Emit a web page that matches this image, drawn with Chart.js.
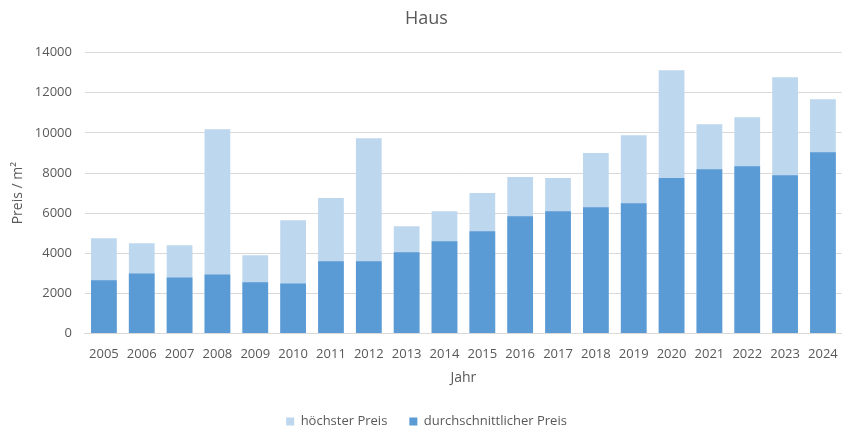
<!DOCTYPE html>
<html>
<head>
<meta charset="utf-8">
<script src="https://cdn.jsdelivr.net/npm/chart.js@4"></script>
<style>
  html, body { margin: 0; padding: 0; background: #ffffff; }
  #wrap { width: 851px; height: 434px; }
</style>
</head>
<body>
<div id="wrap"><canvas id="c" width="851" height="434"></canvas></div>
<script>
const years = ["2005","2006","2007","2008","2009","2010","2011","2012","2013","2014","2015","2016","2017","2018","2019","2020","2021","2022","2023","2024"];
const hoechsterPreis = [4750,4500,4400,10180,3900,5650,6750,9730,5350,6100,7000,7800,7750,9000,9880,13120,10430,10780,12770,11680];
const durchschnittPreis = [2660,3000,2800,2950,2560,2500,3600,3600,4050,4600,5100,5850,6100,6300,6500,7750,8190,8340,7890,9040];
const yTicks = [0,2000,4000,6000,8000,10000,12000,14000];

const grey = '#595959';
const fontFam = '"Open Sans", "DejaVu Sans", sans-serif';

new Chart(document.getElementById('c'), {
  type: 'bar',
  data: {
    labels: years,
    datasets: [
      {
        label: 'durchschnittlicher Preis',
        data: durchschnittPreis,
        backgroundColor: '#5b9bd5',
        grouped: false,
        barPercentage: 0.68,
        categoryPercentage: 1.0
      },
      {
        label: 'höchster Preis',
        data: hoechsterPreis,
        backgroundColor: '#bdd7ee',
        grouped: false,
        barPercentage: 0.68,
        categoryPercentage: 1.0
      }
    ]
  },
  options: {
    responsive: false,
    animation: false,
    layout: { padding: { left: 10, right: 8, top: 0, bottom: -4 } },
    plugins: {
      title: {
        display: true,
        text: 'Haus',
        color: grey,
        font: { family: fontFam, size: 18, weight: 'normal' },
        padding: { top: 8, bottom: 23 }
      },
      legend: {
        position: 'bottom',
        reverse: true,
        labels: {
          color: grey,
          font: { family: fontFam, size: 13 },
          boxWidth: 8,
          boxHeight: 8,
          padding: 22
        }
      },
      tooltip: { enabled: false }
    },
    scales: {
      x: {
        grid: { display: false, drawTicks: false },
        border: { display: true, color: '#d9d9d9' },
        ticks: { color: grey, font: { family: fontFam, size: 13 }, padding: 13, maxRotation: 0 },
        title: { display: true, text: 'Jahr', color: grey, font: { family: fontFam, size: 14 }, padding: { top: 0, bottom: 7 } },
        afterFit: (axis) => { axis.height -= 6; }
      },
      y: {
        min: 0,
        max: 14000,
        afterBuildTicks: (axis) => { axis.ticks = yTicks.map(v => ({ value: v })); },
        grid: { color: '#d9d9d9', drawTicks: false },
        border: { display: false },
        ticks: { color: grey, font: { family: fontFam, size: 13 }, padding: 13, callback: (v) => String(v) },
        title: { display: true, text: 'Preis / m²', color: grey, font: { family: fontFam, size: 14 }, padding: { top: 0, bottom: 4 } },
        afterFit: (axis) => { axis.width -= 9; }
      }
    }
  }
});
</script>
</body>
</html>
